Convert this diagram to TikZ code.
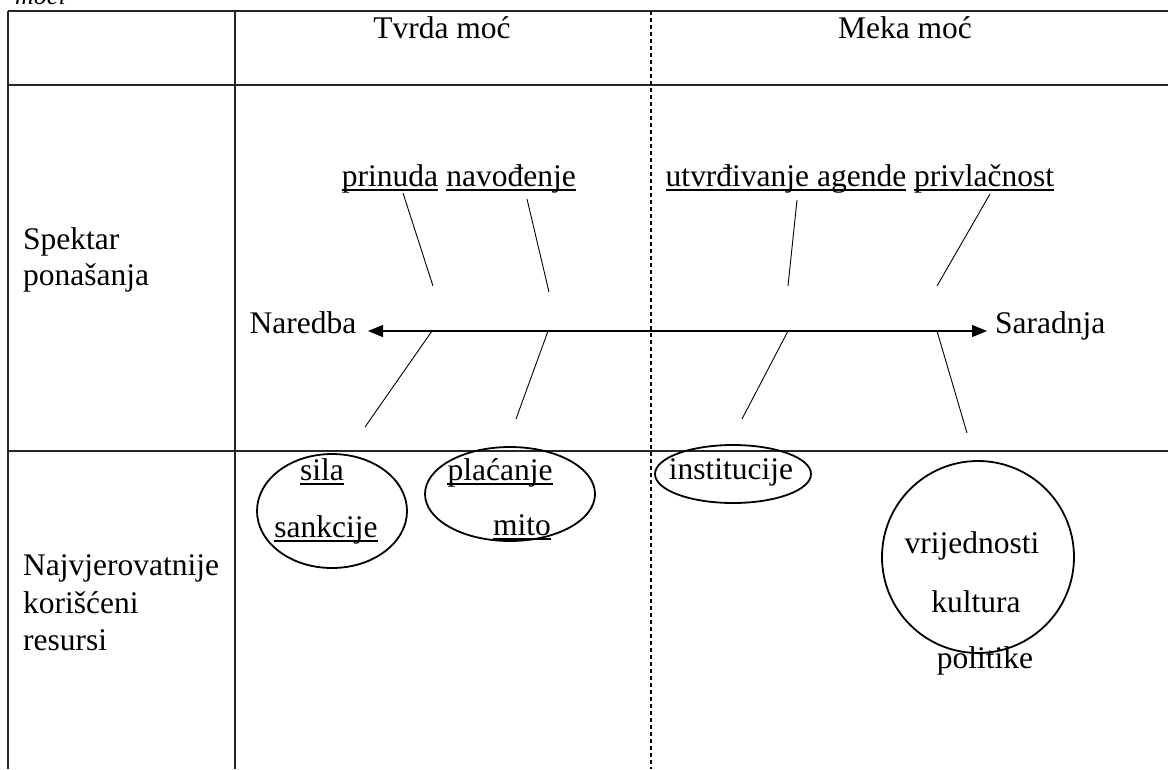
\documentclass[tikz,border=0pt]{standalone}
\usepackage{fontspec}
\setmainfont{Liberation Serif}
\usetikzlibrary{arrows.meta,shapes.geometric}
\begin{document}
\begin{tikzpicture}[x=1pt,y=-1pt,
  txt/.style={inner sep=0pt, anchor=base, font=\fontsize{31.5}{37}\selectfont},
  ltxt/.style={txt, anchor=base west},
  grid/.style={line width=1.3pt, draw=black!85},
  sep/.style={line width=1.2pt, dash pattern=on 4pt off 3pt},
  bone/.style={line width=0.9pt},
  axis/.style={line width=1.1pt, {Triangle[length=15pt,width=12pt]}-{Triangle[length=15pt,width=12pt]}},
  ring/.style={line width=1.8pt},
  ul/.style={line width=1.2pt}]
\useasboundingbox (0,0) rectangle (1168,769);
\clip (0,0) rectangle (1168,769);
\fill[white] (0,0) rectangle (1168,769);
% title fragment
\node[inner sep=0pt, anchor=base west, font=\itshape\fontsize{26}{30}\selectfont] (title) at (15,4) {moći};
% table
\coordinate (tl) at (8,11);
\coordinate (tr) at (1168,11);
\coordinate (bl) at (8,769);
\coordinate (c1t) at (235,11);
\coordinate (c1b) at (235,769);
\coordinate (h1l) at (8,85);
\coordinate (h1r) at (1168,85);
\coordinate (h2l) at (8,451);
\coordinate (h2r) at (1168,451);
\coordinate (dt) at (651,11);
\coordinate (db) at (651,769);
\draw[grid] (tl) -- (tr);
\draw[grid] (tl) -- (bl);
\draw[grid] (c1t) -- (c1b);
\draw[grid] (h1l) -- (h1r);
\draw[grid] (h2l) -- (h2r);
\draw[sep] (dt) -- (db);
% headers
\node[txt] (hard) at (442,38) {Tvrda moć};
\node[txt] (soft) at (905,38) {Meka moć};
\node[ltxt] (sp1) at (23,249) {Spektar};
\node[ltxt] (sp2) at (23,285) {ponašanja};
\node[ltxt] (re1) at (23,575) {Najvjerovatnije};
\node[ltxt] (re2) at (23,613) {korišćeni};
\node[ltxt] (re3) at (23,650) {resursi};
% spectrum
\node[txt] (prin) at (390,186) {prinuda};
\node[txt] (navo) at (511,186) {navođenje};
\node[txt] (agen) at (786,186) {utvrđivanje agende};
\node[txt] (priv) at (984,186) {privlačnost};
\foreach \n in {prin,navo,agen,priv}
  \draw[ul] ([yshift=-4pt]\n.base west) -- ([yshift=-4pt]\n.base east);
\node[txt] (nar) at (303,333) {Naredba};
\node[ltxt] (sar) at (995,333) {Saradnja};
\coordinate (al) at (368,331);
\coordinate (ar) at (987,331);
\draw[axis] (al) -- (ar);
% bones
\coordinate (p1a) at (403,193); \coordinate (p1b) at (433,286);
\coordinate (p2a) at (432,331); \coordinate (p2b) at (365,427);
\coordinate (n1a) at (527,199); \coordinate (n1b) at (549,292);
\coordinate (n2a) at (548,331); \coordinate (n2b) at (516,419);
\coordinate (u1a) at (797,200); \coordinate (u1b) at (788,286);
\coordinate (u2a) at (788,331); \coordinate (u2b) at (742,419);
\coordinate (v1a) at (990,194); \coordinate (v1b) at (937,286);
\coordinate (v2a) at (937,331); \coordinate (v2b) at (967,433);
\foreach \a/\b in {p1a/p1b,p2a/p2b,n1a/n1b,n2a/n2b,u1a/u1b,u2a/u2b,v1a/v1b,v2a/v2b}
  \draw[bone] (\a) -- (\b);
% resources
\node[ellipse, draw, ring, inner sep=0pt, minimum width=150pt, minimum height=114pt] (e1) at (332,511) {};
\node[ellipse, draw, ring, inner sep=0pt, minimum width=170pt, minimum height=94pt] (e2) at (510,494) {};
\node[ellipse, draw, ring, inner sep=0pt, minimum width=156pt, minimum height=58pt] (e3) at (733,474) {};
\node[circle, draw, ring, inner sep=0pt, minimum size=192pt] (e4) at (978,557) {};
\node[txt] (sila) at (322,480) {sila};
\node[txt] (sank) at (326,537) {sankcije};
\node[txt] (plac) at (500,480) {plaćanje};
\node[txt] (mito) at (522,535) {mito};
\foreach \n in {sila,sank,plac,mito}
  \draw[ul] ([yshift=-4pt]\n.base west) -- ([yshift=-4pt]\n.base east);
\node[txt] (inst) at (731,479) {institucije};
\node[txt] (vrij) at (972,553) {vrijednosti};
\node[txt] (kult) at (976,612) {kultura};
\node[txt] (poli) at (985,668) {politike};
\end{tikzpicture}
\end{document}
